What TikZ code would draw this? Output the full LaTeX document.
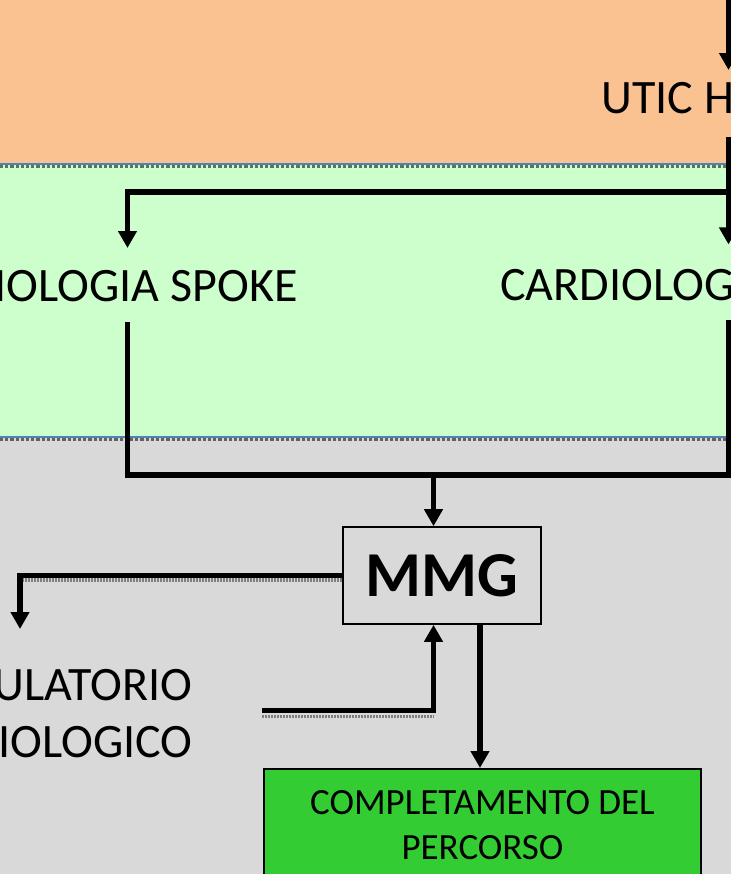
\documentclass[tikz,border=0pt]{standalone}
\usepackage{fontspec}
\setmainfont{Carlito}
\usetikzlibrary{arrows.meta}

\definecolor{fasciautic}{HTML}{F9C290}
\definecolor{fasciacard}{HTML}{CCFFCC}
\definecolor{fasciaamb}{HTML}{D9D9D9}
\definecolor{bordo}{HTML}{4F81BD}
\definecolor{verde}{HTML}{33CC33}

\tikzset{
  testo/.style={inner sep=0pt, font=\fontsize{24}{28.5}\selectfont},
  linea/.style={line width=2.8pt},
  flusso/.style={line width=2.8pt, -{Triangle[width=9pt,length=8.5pt]}},
  ombra/.style={line width=1.6pt, black!50, dash pattern=on 1pt off 0.5pt},
  confine/.style={line width=1.6pt, densely dotted},
}

\begin{document}
\begin{tikzpicture}[x=0.5pt,y=-0.5pt]

  \clip (0,0) rectangle (731,874);

  % fasce
  \fill[fasciautic] (0,0) rectangle (731,163.5);
  \fill[fasciacard] (0,163.5) rectangle (731,437);
  \fill[fasciaamb] (0,437) rectangle (731,874);

  \draw[confine, fasciacard!45!black] (0,166.5) -- (731,166.5);
  \draw[bordo, line width=0.7pt] (0,163.8) -- (731,163.8);
  \draw[confine, fasciaamb!45!black] (0,439.5) -- (731,439.5);
  \draw[bordo, line width=0.7pt] (0,436.8) -- (731,436.8);

  % testi
  \node[testo, anchor=base west] (utic) at (601,113) {UTIC H};
  \node[testo, anchor=base east] (spoke) at (298,301) {IOLOGIA SPOKE};
  \node[testo, anchor=base west] (hub) at (500,300) {CARDIOLOG};
  \node[testo, align=right, anchor=north east] (amb) at (193,669) {ULATORIO\\IOLOGICO};

  \node[draw, line width=0.8pt, minimum width=99pt, minimum height=48.5pt,
        font=\bfseries\fontsize{32}{36}\selectfont] (mmg) at (442,575.5) {MMG};

  \node[draw, line width=0.8pt, fill=verde, anchor=north, minimum width=218.5pt,
        inner ysep=11pt, align=center, font=\fontsize{18.5}{22.5}\selectfont]
        (fine) at (482.5,768) {COMPLETAMENTO DEL\\PERCORSO};

  % punti di passaggio
  \coordinate (entrata) at (728.5,0);
  \coordinate (uticIn) at (728.5,70);
  \coordinate (uticOut) at (728.5,137);
  \coordinate (bivio) at (728.5,192);
  \coordinate (spokeIn) at (127.5,248);
  \coordinate (spokeOut) at (127.5,322);
  \coordinate (hubOut) at (728.5,320);
  \coordinate (unione) at (433.5,475);
  \coordinate (ambIn) at (20,629);
  \coordinate (ambOut) at (262,710.5);

  % collegamenti
  \draw[flusso] (entrata) -- (uticIn);
  \draw[flusso] (uticOut) -- ([yshift=12pt]uticOut |- hub.north);
  \draw[flusso] (bivio) -| (spokeIn);

  \draw[linea] (spokeOut) |- (unione);
  \draw[linea] (hubOut) |- (unione);
  \draw[flusso] (unione) -- (unione |- mmg.north);

  \draw[ombra] ([yshift=-2.2pt]mmg.west) -- ([xshift=-1pt,yshift=-2.2pt]ambIn |- mmg.west);
  \draw[flusso] (mmg.west) -| (ambIn);

  \draw[ombra] ([yshift=-2.8pt]ambOut) -- ([yshift=-2.8pt]unione |- ambOut);
  \draw[flusso] (ambOut) -| (unione |- mmg.south);

  \draw[flusso] ([xshift=19pt]mmg.south) -- ([xshift=19pt]mmg.south |- fine.north);

\end{tikzpicture}
\end{document}
